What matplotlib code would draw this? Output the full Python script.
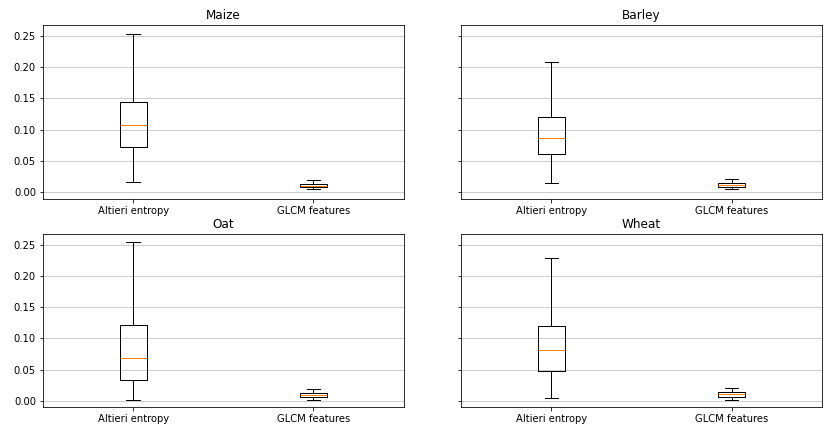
import matplotlib
matplotlib.use("Agg")
import matplotlib.pyplot as plt

crops = ["Maize", "Barley", "Oat", "Wheat"]
methods = ["Altieri entropy", "GLCM features"]

# five-number summaries per crop: [whisker low, Q1, median, Q3, whisker high]
altieri = {
    "Maize":  [0.0151, 0.0718, 0.107, 0.1445, 0.2535],
    "Barley": [0.0140, 0.0605, 0.086, 0.1195, 0.208],
    "Oat":    [0.0016, 0.0337, 0.068, 0.122, 0.2553],
    "Wheat":  [0.0048, 0.048, 0.0819, 0.120, 0.2296],
}
glcm = {
    "Maize":  [0.0039, 0.0071, 0.0096, 0.0128, 0.0193],
    "Barley": [0.0039, 0.0071, 0.0108, 0.0140, 0.0209],
    "Oat":    [0.0011, 0.0059, 0.0096, 0.0128, 0.0181],
    "Wheat":  [0.0016, 0.0059, 0.0101, 0.0140, 0.0204],
}


def summary(vals, label):
    lo, q1, med, q3, hi = vals
    return dict(whislo=lo, q1=q1, med=med, q3=q3, whishi=hi,
                fliers=[], label=label)


fig, axes = plt.subplots(2, 2, figsize=(826 / 72, 427 / 72), dpi=72,
                         sharey=True)
fig.subplots_adjust(left=0.052, right=0.995, top=0.9415, bottom=0.0457,
                    wspace=0.16, hspace=0.203)

for ax, crop in zip(axes.flat, crops):
    stats = [summary(altieri[crop], methods[0]),
             summary(glcm[crop], methods[1])]
    ax.bxp(stats, positions=[1, 2], widths=0.15, showfliers=False,
           medianprops=dict(color="C1"))
    ax.set_title(crop, fontsize=12)
    ax.yaxis.grid(True, color="#cccccc", linewidth=1)
    ax.set_axisbelow(True)
    ax.set_xlim(0.5, 2.5)
    ax.tick_params(labelsize=10)

axes[0, 0].set_ylim(-0.011, 0.268)
axes[0, 0].set_yticks([0.0, 0.05, 0.10, 0.15, 0.20, 0.25])

fig.savefig("out.png", dpi=72, facecolor="white")
